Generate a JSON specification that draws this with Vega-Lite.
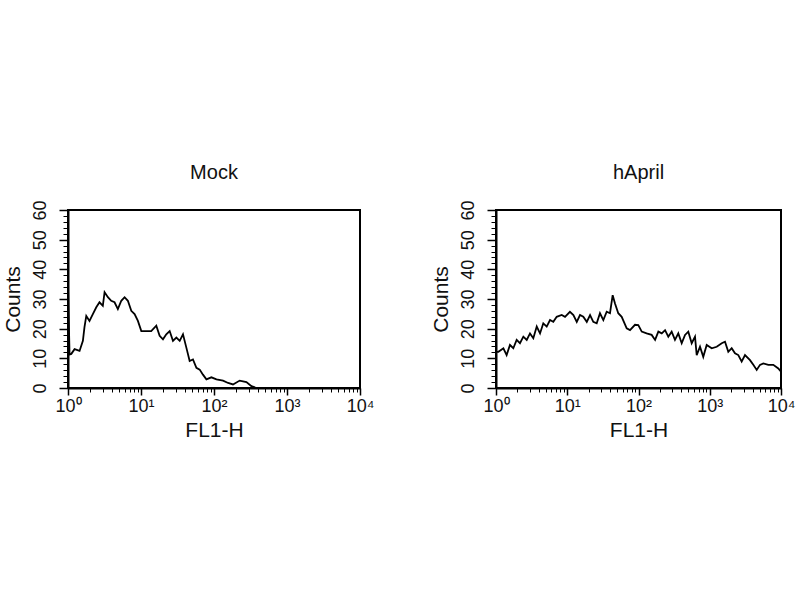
{
  "$schema": "https://vega.github.io/schema/vega-lite/v6.json",
  "autosize": {"type": "pad"},
  "padding": {"left": 1, "top": 161, "right": 10, "bottom": 10},
  "background": "white",
  "config": {
    "font": "Liberation Sans",
    "view": {"stroke": "black", "strokeWidth": 2},
    "axis": {
      "grid": false,
      "domainColor": "black",
      "domainWidth": 2,
      "tickColor": "black",
      "tickWidth": 1.5,
      "labelColor": "#111",
      "labelFont": "Liberation Sans",
      "labelFontSize": 18,
      "titleFont": "Liberation Sans",
      "titleFontSize": 21,
      "titleFontWeight": "normal",
      "titleColor": "#111"
    },
    "title": {"font": "Liberation Sans", "fontSize": 20, "fontWeight": "normal", "color": "#111", "anchor": "middle", "offset": 17},
    "line": {"color": "black", "strokeWidth": 1.8}
  },
  "hconcat": [
    {
      "title": "Mock",
      "width": 292,
      "height": 178,
      "data": {"values": [
        {"fl1h": 1, "counts": 35}, {"fl1h": 1.05, "counts": 11.3}, {"fl1h": 1.11, "counts": 11.5},
        {"fl1h": 1.23, "counts": 13.1}, {"fl1h": 1.44, "counts": 12.5}, {"fl1h": 1.6, "counts": 15.9},
        {"fl1h": 1.68, "counts": 20.4}, {"fl1h": 1.78, "counts": 24.3}, {"fl1h": 1.97, "counts": 22.6},
        {"fl1h": 2.19, "counts": 24.9}, {"fl1h": 2.44, "counts": 27.2}, {"fl1h": 2.7, "counts": 28.9},
        {"fl1h": 3.0, "counts": 27.7}, {"fl1h": 3.17, "counts": 32.3}, {"fl1h": 3.52, "counts": 30.6},
        {"fl1h": 3.91, "counts": 29.4}, {"fl1h": 4.34, "counts": 28.9}, {"fl1h": 4.82, "counts": 26.6},
        {"fl1h": 5.37, "counts": 29.4}, {"fl1h": 5.96, "counts": 30.6}, {"fl1h": 6.61, "counts": 29.4},
        {"fl1h": 7.36, "counts": 26.0}, {"fl1h": 8.17, "counts": 24.9}, {"fl1h": 9.07, "counts": 22.6},
        {"fl1h": 10.1, "counts": 19.2}, {"fl1h": 11.8, "counts": 19.2}, {"fl1h": 13.8, "counts": 19.2},
        {"fl1h": 16.2, "counts": 21.0}, {"fl1h": 18.0, "counts": 17.6}, {"fl1h": 20.0, "counts": 16.4},
        {"fl1h": 22.2, "counts": 18.1}, {"fl1h": 24.7, "counts": 19.2}, {"fl1h": 27.4, "counts": 15.9},
        {"fl1h": 30.5, "counts": 17.0}, {"fl1h": 33.9, "counts": 15.9}, {"fl1h": 37.6, "counts": 18.1},
        {"fl1h": 41.8, "counts": 13.6}, {"fl1h": 46.4, "counts": 9.1}, {"fl1h": 51.5, "counts": 9.6},
        {"fl1h": 57.4, "counts": 6.8}, {"fl1h": 63.7, "counts": 6.2}, {"fl1h": 70.6, "counts": 4.5},
        {"fl1h": 78.7, "counts": 2.9}, {"fl1h": 92.1, "counts": 3.6}, {"fl1h": 108, "counts": 2.9},
        {"fl1h": 133, "counts": 2.5}, {"fl1h": 156, "counts": 1.7}, {"fl1h": 182, "counts": 1.2},
        {"fl1h": 225, "counts": 2.5}, {"fl1h": 278, "counts": 2.0}, {"fl1h": 326, "counts": 0.6},
        {"fl1h": 382, "counts": 0}, {"fl1h": 10000, "counts": 0}
      ]},
      "layer": [
        {
          "mark": {"type": "line"},
          "encoding": {
            "x": {"field": "fl1h", "type": "quantitative",
              "scale": {"type": "log", "domain": [1, 10000], "nice": false},
              "axis": {"orient": "bottom", "title": "FL1-H", "values": [1, 10, 100, 1000, 10000],
                "labelExpr": "'10' + ['⁰','¹','²','³','⁴'][round(log(datum.value)/LN10)]",
                "tickSize": 7, "labelPadding": 2, "titlePadding": 4, "labelFlush": false, "labelOverlap": false}},
            "y": {"field": "counts", "type": "quantitative",
              "scale": {"domain": [0, 60], "nice": false},
              "axis": {"orient": "left", "title": "Counts", "values": [0, 10, 20, 30, 40, 50, 60],
                "labelAngle": 270, "labelAlign": "center", "labelBaseline": "bottom",
                "tickSize": 9, "labelPadding": 10, "titlePadding": 8, "labelFlush": false, "labelOverlap": false}}
          }
        },
        {
          "mark": {"type": "line", "strokeOpacity": 0},
          "encoding": {
            "x": {"field": "fl1h", "type": "quantitative",
              "axis": {"orient": "bottom", "title": null, "labels": false, "domain": false, "tickSize": 4, "tickWidth": 1,
                "values": [2, 3, 4, 5, 6, 7, 8, 9, 20, 30, 40, 50, 60, 70, 80, 90, 200, 300, 400, 500, 600, 700, 800, 900, 2000, 3000, 4000, 5000, 6000, 7000, 8000, 9000]}},
            "y": {"field": "counts", "type": "quantitative",
              "axis": {"orient": "left", "title": null, "labels": false, "domain": false, "tickSize": 5, "tickWidth": 1,
                "values": [2, 4, 6, 8, 12, 14, 16, 18, 22, 24, 26, 28, 32, 34, 36, 38, 42, 44, 46, 48, 52, 54, 56, 58]}}
          }
        }
      ],
      "resolve": {"axis": {"x": "independent", "y": "independent"}}
    },
    {
      "title": "hApril",
      "width": 285,
      "height": 178,
      "data": {"values": [
        {"fl1h": 1, "counts": 12.2}, {"fl1h": 1.08, "counts": 12.2}, {"fl1h": 1.27, "counts": 13.4},
        {"fl1h": 1.41, "counts": 11.1}, {"fl1h": 1.57, "counts": 14.5}, {"fl1h": 1.75, "counts": 13.4},
        {"fl1h": 1.95, "counts": 16.2}, {"fl1h": 2.17, "counts": 15.1}, {"fl1h": 2.42, "counts": 17.3},
        {"fl1h": 2.7, "counts": 16.2}, {"fl1h": 3.0, "counts": 18.4}, {"fl1h": 3.34, "counts": 16.8},
        {"fl1h": 3.73, "counts": 20.7}, {"fl1h": 4.15, "counts": 18.4}, {"fl1h": 4.61, "counts": 21.8},
        {"fl1h": 5.15, "counts": 20.7}, {"fl1h": 5.73, "counts": 22.9}, {"fl1h": 6.37, "counts": 22.3},
        {"fl1h": 7.11, "counts": 24.0}, {"fl1h": 8.36, "counts": 24.6}, {"fl1h": 9.3, "counts": 24.0},
        {"fl1h": 10.9, "counts": 25.7}, {"fl1h": 12.2, "counts": 24.6}, {"fl1h": 13.6, "counts": 22.3},
        {"fl1h": 15.1, "counts": 24.6}, {"fl1h": 16.8, "counts": 24.0}, {"fl1h": 18.8, "counts": 22.3},
        {"fl1h": 20.9, "counts": 24.6}, {"fl1h": 23.2, "counts": 22.3}, {"fl1h": 25.9, "counts": 21.8},
        {"fl1h": 28.8, "counts": 25.2}, {"fl1h": 32.1, "counts": 22.9}, {"fl1h": 35.8, "counts": 25.7},
        {"fl1h": 39.8, "counts": 25.2}, {"fl1h": 43.4, "counts": 31.3}, {"fl1h": 46.8, "counts": 28.5},
        {"fl1h": 52.0, "counts": 25.2}, {"fl1h": 58.1, "counts": 24.0}, {"fl1h": 68.3, "counts": 20.1},
        {"fl1h": 76.0, "counts": 19.5}, {"fl1h": 89.3, "counts": 21.3}, {"fl1h": 99.3, "counts": 21.2},
        {"fl1h": 111, "counts": 19.0}, {"fl1h": 130, "counts": 18.4}, {"fl1h": 153, "counts": 17.9},
        {"fl1h": 171, "counts": 16.2}, {"fl1h": 190, "counts": 19.0}, {"fl1h": 212, "counts": 18.4},
        {"fl1h": 236, "counts": 19.5}, {"fl1h": 262, "counts": 17.3}, {"fl1h": 292, "counts": 19.0},
        {"fl1h": 325, "counts": 16.2}, {"fl1h": 362, "counts": 18.4}, {"fl1h": 404, "counts": 15.1},
        {"fl1h": 450, "counts": 17.9}, {"fl1h": 500, "counts": 19.0}, {"fl1h": 558, "counts": 15.1},
        {"fl1h": 621, "counts": 17.3}, {"fl1h": 656, "counts": 11.1}, {"fl1h": 730, "counts": 13.9},
        {"fl1h": 811, "counts": 10.5}, {"fl1h": 906, "counts": 14.5}, {"fl1h": 1065, "counts": 13.4},
        {"fl1h": 1253, "counts": 13.9}, {"fl1h": 1472, "counts": 15.1}, {"fl1h": 1637, "counts": 15.6},
        {"fl1h": 1821, "counts": 12.2}, {"fl1h": 2032, "counts": 13.4}, {"fl1h": 2261, "counts": 11.7},
        {"fl1h": 2516, "counts": 11.1}, {"fl1h": 2806, "counts": 8.9}, {"fl1h": 3124, "counts": 11.1},
        {"fl1h": 3673, "counts": 9.4}, {"fl1h": 4087, "counts": 7.8}, {"fl1h": 4560, "counts": 6.1},
        {"fl1h": 5073, "counts": 7.8}, {"fl1h": 5644, "counts": 8.3}, {"fl1h": 6637, "counts": 7.8},
        {"fl1h": 7798, "counts": 7.8}, {"fl1h": 9165, "counts": 6.6}, {"fl1h": 10000, "counts": 5.5}
      ]},
      "layer": [
        {
          "mark": {"type": "line"},
          "encoding": {
            "x": {"field": "fl1h", "type": "quantitative",
              "scale": {"type": "log", "domain": [1, 10000], "nice": false},
              "axis": {"orient": "bottom", "title": "FL1-H", "values": [1, 10, 100, 1000, 10000],
                "labelExpr": "'10' + ['⁰','¹','²','³','⁴'][round(log(datum.value)/LN10)]",
                "tickSize": 7, "labelPadding": 2, "titlePadding": 4, "labelFlush": false, "labelOverlap": false}},
            "y": {"field": "counts", "type": "quantitative",
              "scale": {"domain": [0, 60], "nice": false},
              "axis": {"orient": "left", "title": "Counts", "values": [0, 10, 20, 30, 40, 50, 60],
                "labelAngle": 270, "labelAlign": "center", "labelBaseline": "bottom",
                "tickSize": 9, "labelPadding": 10, "titlePadding": 8, "labelFlush": false, "labelOverlap": false}}
          }
        },
        {
          "mark": {"type": "line", "strokeOpacity": 0},
          "encoding": {
            "x": {"field": "fl1h", "type": "quantitative",
              "axis": {"orient": "bottom", "title": null, "labels": false, "domain": false, "tickSize": 4, "tickWidth": 1,
                "values": [2, 3, 4, 5, 6, 7, 8, 9, 20, 30, 40, 50, 60, 70, 80, 90, 200, 300, 400, 500, 600, 700, 800, 900, 2000, 3000, 4000, 5000, 6000, 7000, 8000, 9000]}},
            "y": {"field": "counts", "type": "quantitative",
              "axis": {"orient": "left", "title": null, "labels": false, "domain": false, "tickSize": 5, "tickWidth": 1,
                "values": [2, 4, 6, 8, 12, 14, 16, 18, 22, 24, 26, 28, 32, 34, 36, 38, 42, 44, 46, 48, 52, 54, 56, 58]}}
          }
        }
      ],
      "resolve": {"axis": {"x": "independent", "y": "independent"}}
    }
  ],
  "spacing": 136,
  "bounds": "flush"
}
